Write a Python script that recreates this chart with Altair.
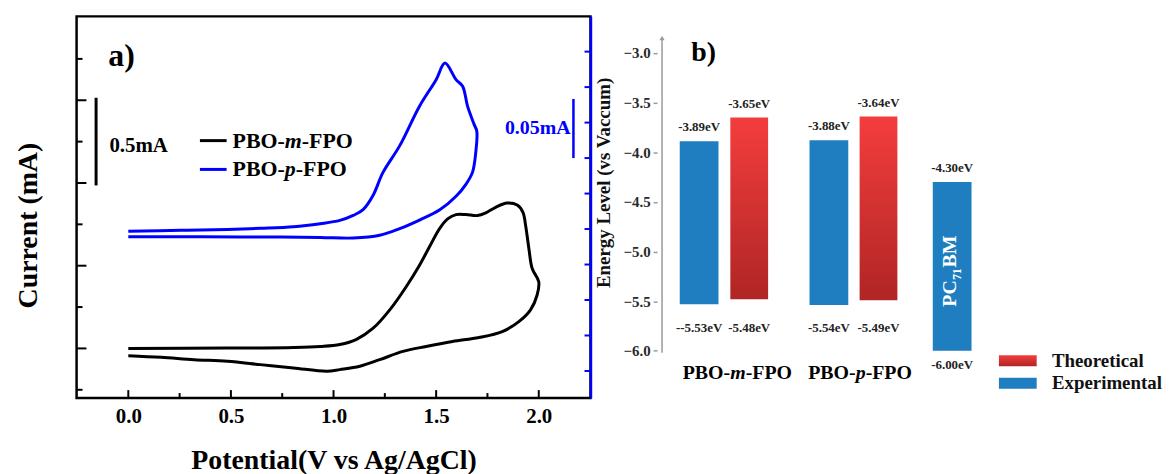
import altair as alt
import pandas as pd

FONT = "Liberation Serif"
CV_BLUE = "#0000ff"
BAR_BLUE = "#1f7ec0"

# ---------------- Panel a) cyclic voltammetry ----------------
m_fpo_potential = [0.000, 0.483, 0.805, 0.935, 1.031, 1.112, 1.193, 1.274, 1.354, 1.419, 1.467,
                   1.516, 1.556, 1.597, 1.645, 1.701, 1.742, 1.790, 1.846, 1.895, 1.923, 1.936,
                   1.952, 1.968, 2.000, 1.992, 1.960, 1.903, 1.822, 1.709, 1.580, 1.451, 1.338,
                   1.225, 1.128, 1.031, 0.967, 0.805, 0.644, 0.483, 0.321, 0.160, 0.000]
m_fpo_current = [0.000, 0.002, 0.006, 0.012, 0.024, 0.055, 0.122, 0.233, 0.373, 0.503, 0.613,
                 0.723, 0.783, 0.809, 0.809, 0.803, 0.819, 0.853, 0.879, 0.867, 0.823, 0.743,
                 0.603, 0.483, 0.403, 0.323, 0.233, 0.162, 0.102, 0.066, 0.042, 0.012, -0.018,
                 -0.068, -0.108, -0.128, -0.138, -0.118, -0.098, -0.078, -0.068, -0.054, -0.044]

p_fpo_potential = [0.000, 0.257, 0.483, 0.644, 0.805, 0.935, 1.031, 1.096, 1.144, 1.193, 1.241,
                   1.322, 1.419, 1.500, 1.543, 1.597, 1.629, 1.653, 1.685, 1.698, 1.693, 1.677,
                   1.645, 1.597, 1.516, 1.419, 1.322, 1.225, 1.096, 0.935, 0.644, 0.354, 0.000]
p_fpo_current = [-0.0019, -0.0011, -0.0003, 0.0006, 0.0019, 0.0045, 0.0073, 0.0115, 0.0164,
                 0.0286, 0.0479, 0.0703, 0.1039, 0.1263, 0.1403, 0.1263, 0.1208, 0.1039, 0.0885,
                 0.0829, 0.0647, 0.0479, 0.0378, 0.0277, 0.0160, 0.0076, 0.0003, -0.0053,
                 -0.0076, -0.0071, -0.0067, -0.0066, -0.0065]

x_major_ticks = [0.0, 0.5, 1.0, 1.5, 2.0]
x_minor_ticks = [0.25, 0.75, 1.25, 1.75]
yl_major_ticks = [0.0, 0.5, 1.0, 1.5]
yl_minor_ticks = [-0.25, 0.25, 0.75, 1.25, 1.75]
yr_ticks = [-0.12, -0.09, -0.06, -0.03, 0.0, 0.03, 0.06, 0.09, 0.12, 0.15]

panel_tags = ["a)", "b)"]
scale_bar_texts = ["0.5mA", "0.05mA"]
black_bar_range = [0.985, 1.515]     # mA (left scale)
blue_bar_range = [0.06, 0.11]        # mA (right scale)
cv_legend_parts = [("PBO-", "m", "-FPO"), ("PBO-", "p", " -FPO")]

# ---------------- Panel b) energy levels ----------------
materials = ["PBO-m-FPO", "PBO-m-FPO", "PBO-p-FPO", "PBO-p-FPO", "PC71BM"]
kinds = ["Experimental", "Theoretical", "Experimental", "Theoretical", "Experimental"]
lumo = [-3.89, -3.65, -3.88, -3.64, -4.30]
homo = [-5.53, -5.48, -5.54, -5.49, -6.00]
slots = [1.0, 2.0, 3.59, 4.58, 6.05]
lumo_labels = ["-3.89eV", "-3.65eV", "-3.88eV", "-3.64eV", "-4.30eV"]
homo_labels = ["--5.53eV", "-5.48eV", "-5.54eV", "-5.49eV", "-6.00eV"]
energy_ticks = [-3.0, -3.25, -3.5, -3.75, -4.0, -4.25, -4.5, -4.75, -5.0, -5.25, -5.5, -5.75, -6.0]
group_parts = [("PBO-", "m", "-FPO"), ("PBO-", "p", "-FPO")]
pcbm_parts = ["PC", "71", "BM"]
legend_kinds = ["Theoretical", "Experimental"]

# ================= scales =================
XD = [-0.252, 2.252]
YL = [-0.300, 2.007]
YR = [-0.1429, 0.1798]
xs = alt.Scale(domain=XD, nice=False, zero=False)
yls = alt.Scale(domain=YL, nice=False, zero=False)
yrs = alt.Scale(domain=YR, nice=False, zero=False)

x_axis = alt.Axis(title="Potential(V vs Ag/AgCl)", values=x_major_ticks, format=".1f",
                  ticks=False, tickSize=0, domain=False, grid=False, labelFont=FONT,
                  labelFontSize=21, labelFontWeight="bold", labelColor="black", labelPadding=8,
                  labelFlush=False, titleFont=FONT, titleFontSize=28, titleFontWeight="bold",
                  titleColor="black", titlePadding=20)
yl_axis = alt.Axis(title="Current (mA)", labels=False, ticks=False, tickSize=0, domain=False,
                   grid=False, titleFont=FONT, titleFontSize=28, titleFontWeight="bold",
                   titleColor="black", titlePadding=34, titleY=210)
yr_axis = alt.Axis(orient="right", title="", labels=False, ticks=False, tickSize=0, domain=True,
                   domainColor=CV_BLUE, domainWidth=2.5, grid=False)


def xa(field):
    return alt.X(f"{field}:Q", scale=xs)


def yla(field):
    return alt.Y(f"{field}:Q", scale=yls)


def yra(field):
    return alt.Y(f"{field}:Q", scale=yrs)


def text_a(text, x, y, yscale, size, color="black", align="left", style="normal", dx=0):
    d = pd.DataFrame({"t": [text], "x": [x], "y": [y]})
    return alt.Chart(d).mark_text(font=FONT, fontSize=size, fontWeight="bold", fontStyle=style,
                                  color=color, align=align, baseline="middle", dx=dx).encode(
        x=xa("x"), y=alt.Y("y:Q", scale=yscale), text="t:N")


df_m = pd.DataFrame({"V": m_fpo_potential, "I": m_fpo_current, "idx": range(len(m_fpo_potential))})
df_p = pd.DataFrame({"V": p_fpo_potential, "I": p_fpo_current, "idx": range(len(p_fpo_potential))})

black_line = alt.Chart(df_m).mark_line(color="black", strokeWidth=3, interpolate="catmull-rom").encode(
    x=alt.X("V:Q", scale=xs, axis=x_axis),
    y=alt.Y("I:Q", scale=yls, axis=yl_axis),
    order=alt.Order("idx:Q"))

bt = pd.DataFrame({"V": x_major_ticks + x_minor_ticks,
                   "y0": [YL[0]] * (len(x_major_ticks) + len(x_minor_ticks)),
                   "y1": [YL[0] + 0.048] * len(x_major_ticks) + [YL[0] + 0.030] * len(x_minor_ticks)})
bottom_ticks = alt.Chart(bt).mark_rule(color="black", strokeWidth=2).encode(
    x=xa("V"), y=yla("y0"), y2="y1:Q")

lt = pd.DataFrame({"I": yl_major_ticks + yl_minor_ticks,
                   "x0": [XD[0]] * (len(yl_major_ticks) + len(yl_minor_ticks)),
                   "x1": [XD[0] + 0.048] * len(yl_major_ticks) + [XD[0] + 0.029] * len(yl_minor_ticks)})
left_ticks = alt.Chart(lt).mark_rule(color="black", strokeWidth=2).encode(
    y=yla("I"), x=xa("x0"), x2="x1:Q")

sb = pd.DataFrame({"x": [-0.157], "y0": [black_bar_range[0]], "y1": [black_bar_range[1]]})
black_bar = alt.Chart(sb).mark_rule(color="black", strokeWidth=3).encode(
    x=xa("x"), y=yla("y0"), y2="y1:Q")

lg = pd.DataFrame({"x0": [0.349, 0.349], "x1": [0.479, 0.479], "y": [1.256, 1.082],
                   "c": ["black", CV_BLUE]})
legend_lines = alt.Chart(lg).mark_rule(strokeWidth=3).encode(
    x=xa("x0"), x2="x1:Q", y=yla("y"), color=alt.Color("c:N", scale=None))

legend_texts = []
for (pre, it, suf), yv, itw in zip(cv_legend_parts, [1.256, 1.082], [17.1, 11.0]):
    legend_texts.append(text_a(pre, 0.508, yv, yls, 22))
    legend_texts.append(text_a(it, 0.508, yv, yls, 22, style="italic", dx=52.6))
    legend_texts.append(text_a(suf, 0.508, yv, yls, 22, dx=52.6 + itw))

black_group = alt.layer(
    black_line, bottom_ticks, left_ticks, black_bar, legend_lines,
    text_a(panel_tags[0], -0.033, 1.77, yls, 32, align="center"),
    text_a(scale_bar_texts[0], -0.092, 1.223, yls, 21),
    *legend_texts)

blue_line = alt.Chart(df_p).mark_line(color=CV_BLUE, strokeWidth=3, interpolate="catmull-rom").encode(
    x=xa("V"),
    y=alt.Y("I:Q", scale=yrs, axis=yr_axis),
    order=alt.Order("idx:Q"))

rt = pd.DataFrame({"I": yr_ticks, "x0": [XD[1] - 0.029] * len(yr_ticks), "x1": [XD[1]] * len(yr_ticks)})
right_ticks = alt.Chart(rt).mark_rule(color=CV_BLUE, strokeWidth=2).encode(
    y=yra("I"), x=xa("x0"), x2="x1:Q")

bb = pd.DataFrame({"x": [2.169], "y0": [blue_bar_range[0]], "y1": [blue_bar_range[1]]})
blue_bar = alt.Chart(bb).mark_rule(color=CV_BLUE, strokeWidth=2.5).encode(
    x=xa("x"), y=yra("y0"), y2="y1:Q")

blue_group = alt.layer(
    blue_line, right_ticks, blue_bar,
    text_a(scale_bar_texts[1], 2.155, 0.0857, yrs, 20, color=CV_BLUE, align="right"))

panel_a = alt.layer(black_group, blue_group).resolve_scale(y="independent").properties(
    width=517, height=384, view=alt.ViewBackground(stroke="black", strokeWidth=2.5))

# ================= Panel b =================
ys = alt.Scale(domain=[-6.476, -2.632], nice=False, zero=False)
xbs = alt.Scale(domain=[0.26, 9.98], nice=False, zero=False)

e_axis = alt.Axis(values=energy_ticks,
                  labelExpr="abs(datum.value * 2 - round(datum.value * 2)) < 0.01 ? format(datum.value, '.1f') : ''",
                  title="Energy Level (vs Vaccum)", domain=False, grid=False, ticks=True,
                  tickSize=4, tickWidth=1.5, tickColor="#9a9a9a", labelFont=FONT,
                  labelFontSize=15, labelFontWeight="bold", labelColor="#2a2a2a", labelPadding=3,
                  titleFont=FONT, titleFontSize=19, titleFontWeight="bold", titleColor="#111111",
                  titlePadding=10, titleY=167)


def xb(field):
    return alt.X(f"{field}:Q", scale=xbs, axis=None)


def yb(field):
    return alt.Y(f"{field}:Q", scale=ys)


df_b = pd.DataFrame({"material": materials, "kind": kinds, "lumo": lumo, "homo": homo,
                     "slot": slots, "lumo_txt": lumo_labels, "homo_txt": homo_labels})
df_exp = df_b[df_b["kind"] == "Experimental"]
df_theo = df_b[df_b["kind"] == "Theoretical"]

red_grad = alt.LinearGradient(
    gradient="linear",
    stops=[alt.GradientStop(offset=0, color="#f43d3d"), alt.GradientStop(offset=1, color="#b02525")],
    x1=0, x2=0, y1=0, y2=1)

exp_bars = alt.Chart(df_exp).mark_bar(size=39, color=BAR_BLUE).encode(
    x=xb("slot"), y=alt.Y("lumo:Q", scale=ys, axis=e_axis), y2="homo:Q")
theo_bars = alt.Chart(df_theo).mark_bar(size=38, color=red_grad).encode(
    x=xb("slot"), y=yb("lumo"), y2="homo:Q")

lab_style = dict(font=FONT, fontSize=13, fontWeight="bold", color="#222222", baseline="middle")
top_labels = alt.Chart(df_b).mark_text(dy=-14, **lab_style).encode(
    x=xb("slot"), y=yb("lumo"), text="lumo_txt:N")
df_pol = df_b[df_b["material"] != "PC71BM"].assign(row=-5.77)
bottom_labels = alt.Chart(df_pol).mark_text(**lab_style).encode(
    x=xb("slot"), y=yb("row"), text="homo_txt:N")
df_pc = df_b[df_b["material"] == "PC71BM"]
pcbm_bottom = alt.Chart(df_pc).mark_text(dy=14, **lab_style).encode(
    x=xb("slot"), y=yb("homo"), text="homo_txt:N")


def text_b(text, x, y, size, color="black", align="left", style="normal", dx=0, dy=0, angle=0):
    d = pd.DataFrame({"t": [text], "x": [x], "y": [y]})
    return alt.Chart(d).mark_text(font=FONT, fontSize=size, fontWeight="bold", fontStyle=style,
                                  color=color, align=align, baseline="middle", dx=dx, dy=dy,
                                  angle=angle).encode(x=xb("x"), y=yb("y"), text="t:N")


pc_slot = float(df_pc["slot"].iloc[0])
pcbm_texts = [
    text_b(pcbm_parts[0], pc_slot, -5.2, 20, color="white", angle=270, dx=-35.5, dy=-2),
    text_b(pcbm_parts[1], pc_slot, -5.2, 12, color="white", angle=270, dx=-8.8, dy=5),
    text_b(pcbm_parts[2], pc_slot, -5.2, 20, color="white", angle=270, dx=4, dy=-2),
]

centers = df_b[df_b["material"] != "PC71BM"].groupby("material", sort=False)["slot"].mean().tolist()
group_texts = []
for (pre, it, suf), cx, w, shift in zip(group_parts, centers, [15.6, 10.0], [13.8, 7.0]):
    group_texts.append(text_b(pre, cx, -6.226, 20, align="right", dx=shift - w / 2))
    group_texts.append(text_b(it, cx, -6.226, 20, align="center", style="italic", dx=shift))
    group_texts.append(text_b(suf, cx, -6.226, 20, align="left", dx=shift + w / 2))

leg_y = [-6.101, -6.326]
leg_half = 0.055
leg_df = pd.DataFrame({"kind": legend_kinds, "x": [7.36, 7.36],
                       "y0": [v + leg_half for v in leg_y], "y1": [v - leg_half for v in leg_y],
                       "yc": leg_y, "tx": [8.04, 8.04]})
leg_red = alt.Chart(leg_df[leg_df["kind"] == "Theoretical"]).mark_bar(size=38, color=red_grad).encode(
    x=xb("x"), y=yb("y0"), y2="y1:Q")
leg_blue = alt.Chart(leg_df[leg_df["kind"] == "Experimental"]).mark_bar(size=38, color=BAR_BLUE).encode(
    x=xb("x"), y=yb("y0"), y2="y1:Q")
leg_text = alt.Chart(leg_df).mark_text(font=FONT, fontSize=19, fontWeight="bold", color="#111111",
                                       align="left", baseline="middle").encode(
    x=xb("tx"), y=yb("yc"), text="kind:N")

axis_df = pd.DataFrame({"x": [0.26], "y0": [-6.02], "y1": [-2.85]})
axis_rule = alt.Chart(axis_df).mark_rule(color="#9a9a9a", strokeWidth=1.5).encode(
    x=xb("x"), y=yb("y0"), y2="y1:Q")
axis_arrow = alt.Chart(axis_df).mark_point(shape="triangle-up", filled=True, size=28,
                                           color="#9a9a9a", opacity=1).encode(
    x=xb("x"), y=yb("y1"))

panel_b = alt.layer(
    exp_bars, theo_bars, axis_rule, axis_arrow, top_labels, bottom_labels, pcbm_bottom,
    *pcbm_texts, *group_texts, leg_red, leg_blue, leg_text,
    text_b(panel_tags[1], 1.09, -3.0, 28, align="center"),
).properties(width=500, height=384)

chart = alt.hconcat(panel_a, panel_b, spacing=0).properties(
    padding={"left": 5, "top": 5, "right": 0, "bottom": 0}
).configure(font=FONT).configure_view(stroke=None)

chart.save("out.html", embed_options={"renderer": "svg", "actions": False})
